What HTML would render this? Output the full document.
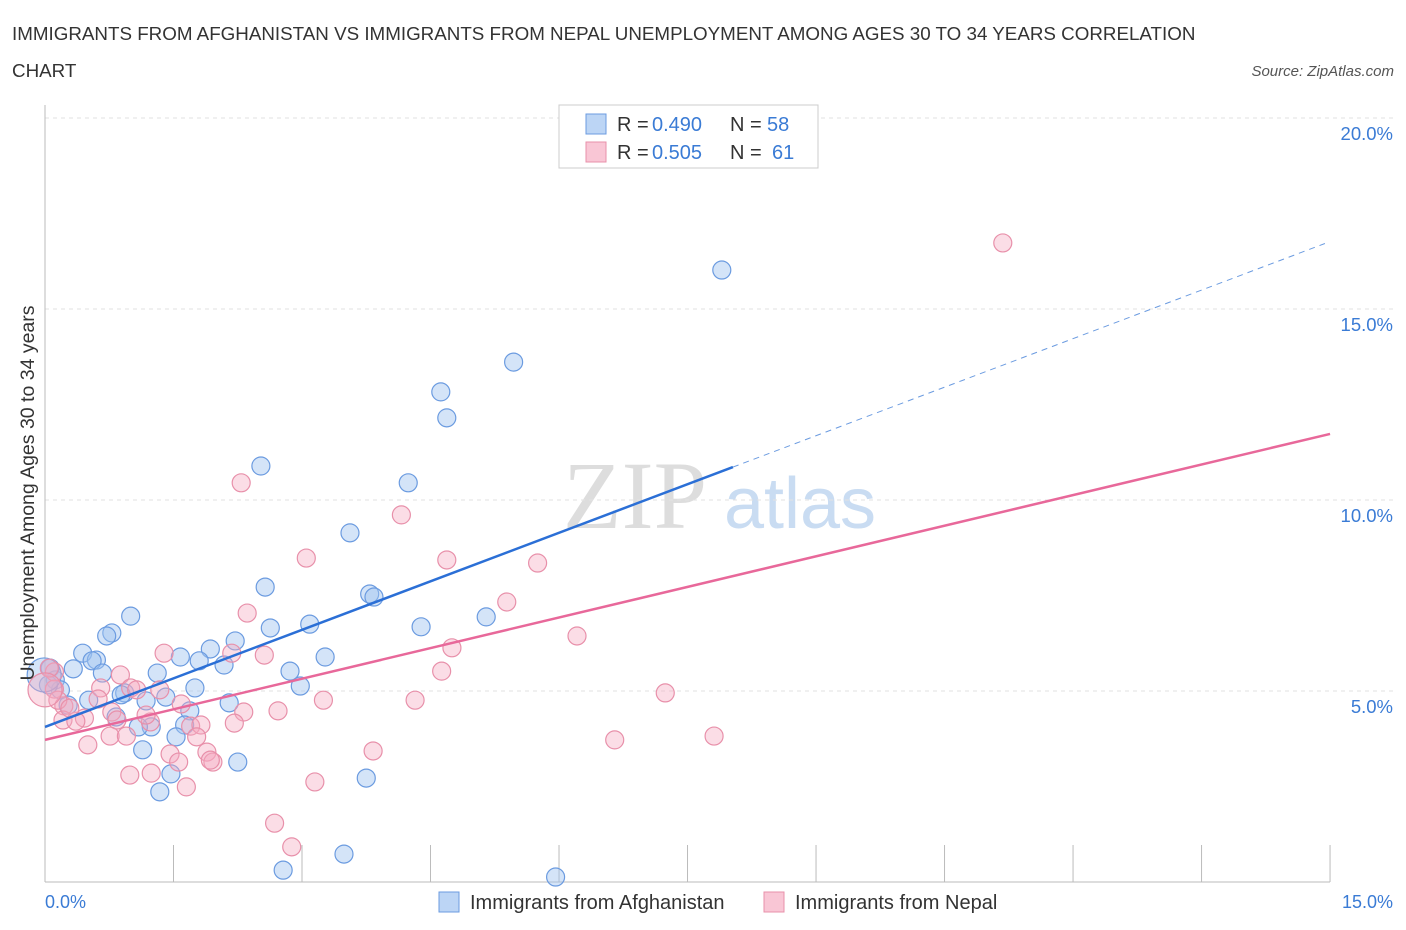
<!DOCTYPE html>
<html><head><meta charset="utf-8"><style>
body{margin:0;background:#fff;font-family:"Liberation Sans",sans-serif;}
svg{display:block}
</style></head><body>
<svg id="chart" width="1406" height="930">
<text x="12" y="40" font-size="18.8" fill="#333">IMMIGRANTS FROM AFGHANISTAN VS IMMIGRANTS FROM NEPAL UNEMPLOYMENT AMONG AGES 30 TO 34 YEARS CORRELATION</text>
<text x="12" y="77" font-size="18.8" fill="#333">CHART</text>
<text x="1394" y="76" font-size="15" fill="#555" font-style="italic" text-anchor="end">Source: ZipAtlas.com</text>
<text x="635" y="528" font-size="96" fill="#ddd" font-family="Liberation Serif,serif" text-anchor="middle">ZIP</text>
<text x="800" y="528" font-size="72" fill="#c9dcf2" text-anchor="middle">atlas</text>
<g id="grid"></g>
<line x1="45" y1="105" x2="45" y2="882" stroke="#bbb"/>
<line x1="45" y1="882" x2="1330" y2="882" stroke="#bbb"/>
<g id="ticks"></g>
<g id="pts"></g>
<g id="lines"></g>
<text transform="translate(34,493) rotate(-90)" font-size="19.5" fill="#333" text-anchor="middle">Unemployment Among Ages 30 to 34 years</text>
<text x="45" y="908" font-size="18" fill="#3a7bd5">0.0%</text>
<text x="1393" y="908" font-size="18" fill="#3a7bd5" text-anchor="end">15.0%</text>
<g>
<rect x="559" y="105" width="259" height="63" fill="#fff" stroke="#ccc"/>
<rect x="586" y="114" width="20" height="20" fill="#bcd5f5" stroke="#6b9be0"/>
<text x="617" y="131" font-size="20" fill="#333">R =</text>
<text x="652" y="131" font-size="20" fill="#3a7bd5">0.490</text>
<text x="730" y="131" font-size="20" fill="#333">N =</text>
<text x="767" y="131" font-size="20" fill="#3a7bd5">58</text>
<rect x="586" y="142" width="20" height="20" fill="#f9c6d5" stroke="#e890aa"/>
<text x="617" y="159" font-size="20" fill="#333">R =</text>
<text x="652" y="159" font-size="20" fill="#3a7bd5">0.505</text>
<text x="730" y="159" font-size="20" fill="#333">N =</text>
<text x="772" y="159" font-size="20" fill="#3a7bd5">61</text>
</g>
<g>
<rect x="439" y="892" width="20" height="20" fill="#bcd5f5" stroke="#6b9be0"/>
<text x="470" y="909" font-size="20" fill="#333">Immigrants from Afghanistan</text>
<rect x="764" y="892" width="20" height="20" fill="#f9c6d5" stroke="#e890aa"/>
<text x="795" y="909" font-size="20" fill="#333">Immigrants from Nepal</text>
</g>
</svg>
<script>
const yTicks=[5,10,15,20];
const xTickCount=10;
const bluePx=[[722,270],[514,362],[441,392],[447,418],[261,466],[408,483],[350,533],[265,587],[370,594],[374,597],[131,616],[310,624],[270,628],[421,627],[486,617],[235,641],[112,633],[107,636],[83,653],[210,649],[96,660],[92,661],[180,657],[199,661],[325,657],[224,665],[290,671],[157,673],[102,673],[73,669],[50,668],[55,680],[60,690],[195,688],[300,686],[125,693],[121,695],[166,697],[146,701],[89,700],[229,703],[68,705],[190,711],[116,717],[185,725],[151,727],[138,727],[176,737],[238,762],[143,750],[171,774],[160,792],[366,778],[344,854],[283,870],[556,877],[48,685],[44,675]];
const pinkPx=[[1003,243],[241,483],[401,515],[306,558],[447,560],[538,563],[247,613],[507,602],[577,636],[164,653],[232,653],[264,655],[452,648],[442,671],[120,675],[160,690],[131,688],[101,688],[137,690],[54,672],[49,668],[665,693],[323,700],[415,700],[98,699],[181,704],[64,706],[112,712],[278,711],[244,712],[191,726],[234,723],[201,725],[150,722],[84,718],[63,720],[117,720],[76,721],[88,745],[110,736],[126,736],[197,737],[207,752],[373,751],[615,740],[714,736],[170,754],[213,762],[210,760],[151,773],[130,775],[179,762],[186,787],[315,782],[275,823],[292,847],[54,689],[58,700],[45,690],[146,715],[70,708]];
const blueX=bluePx.map(p=>+((p[0]-45)/85.67).toFixed(2));
const blueY=bluePx.map(p=>+((882-p[1])/38.2).toFixed(2));
const pinkX=pinkPx.map(p=>+((p[0]-45)/85.67).toFixed(2));
const pinkY=pinkPx.map(p=>+((882-p[1])/38.2).toFixed(2));
const blueTrend=[4.06,0.847];
const pinkTrend=[3.72,0.534];
const sx=v=>45+v*85.67, sy=v=>882-v*38.2;
const NS="http://www.w3.org/2000/svg";
function mk(t,a,par){const e=document.createElementNS(NS,t);for(const k in a)e.setAttribute(k,a[k]);document.getElementById(par).appendChild(e);return e;}
yTicks.forEach(v=>{
 const l=mk('line',{x1:45,x2:1395,y1:sy(v),y2:sy(v),stroke:'#e2e2e2','stroke-dasharray':'4,4'},'grid');
 
 
 const t=mk('text',{x:1393,y:sy(v)+22,'font-size':18.5,fill:'#3a7bd5','text-anchor':'end'},'grid');
 t.textContent=v.toFixed(1)+'%';
 
 
});
for(let i=1;i<=xTickCount;i++){
 const x=sx(i*1.5);
 const l=mk('line',{x1:x,x2:x,y1:845,y2:882,stroke:'#bbb'},'ticks');
 
 
}
function pts(X,Y,fill,stroke,name,bigIdx){
 X.forEach((x,i)=>{
  const r=(i===bigIdx)?17:9;
  const c=mk('circle',{cx:sx(x),cy:sy(Y[i]),r:r,fill:fill,stroke:stroke,'stroke-width':1.2},'pts');
  
  
 });
}
pts(blueX,blueY,'rgba(160,196,240,0.45)','#6b9be0','afghanistan-point',57);
pts(pinkX,pinkY,'rgba(245,170,192,0.4)','#e890aa','nepal-point',58);
let l=mk('line',{x1:sx(0),y1:sy(blueTrend[0]),x2:sx(8.03),y2:sy(blueTrend[0]+blueTrend[1]*8.03),stroke:'#2b6fd6','stroke-width':2.5},'lines');


l=mk('line',{x1:sx(8.03),y1:sy(blueTrend[0]+blueTrend[1]*8.03),x2:sx(14.94),y2:sy(blueTrend[0]+blueTrend[1]*14.94),stroke:'#6b9be0','stroke-width':1,'stroke-dasharray':'6,5'},'lines');


l=mk('line',{x1:sx(0),y1:sy(pinkTrend[0]),x2:sx(15),y2:sy(pinkTrend[0]+pinkTrend[1]*15),stroke:'#e8689a','stroke-width':2.5},'lines');


</script>
</body></html>
